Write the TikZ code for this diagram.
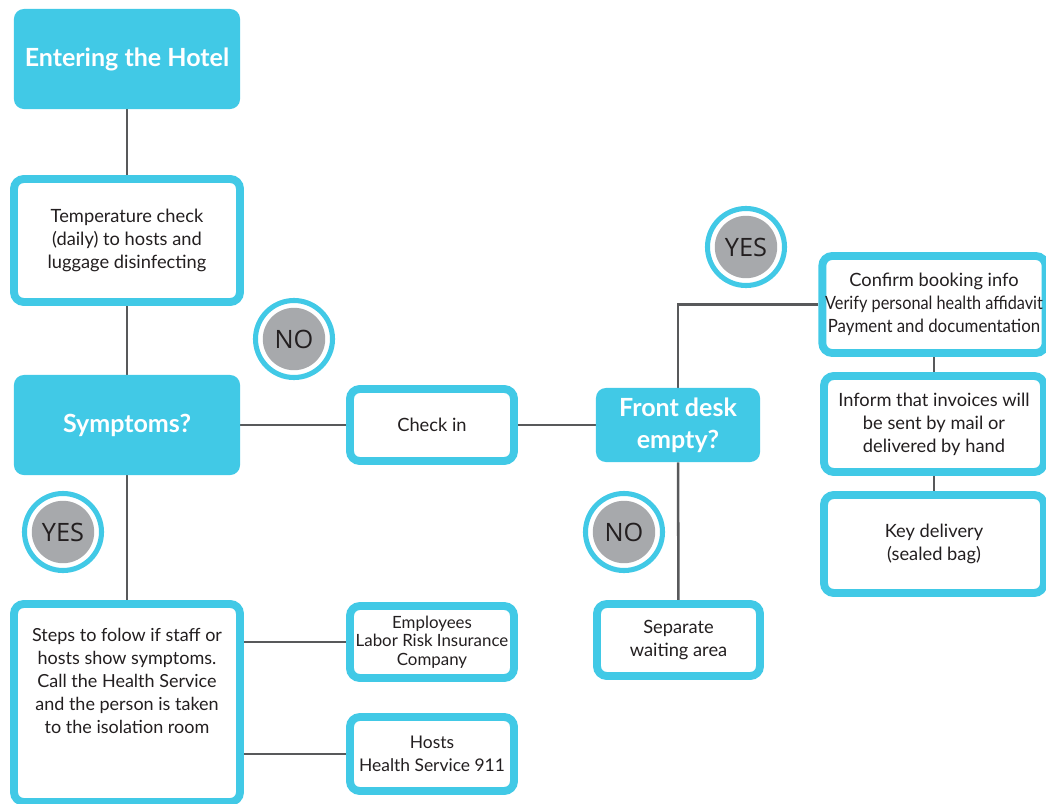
\documentclass[tikz,border=0pt]{standalone}
\usepackage{fontspec}
\setmainfont{Lato}
\newfontfamily\badgefont{Open Sans}
\usetikzlibrary{positioning,backgrounds}
\definecolor{hotelcyan}{HTML}{41C9E6}
\definecolor{badgegrey}{HTML}{A7A9AC}
\definecolor{inkdark}{HTML}{231F20}
\definecolor{wiregrey}{HTML}{58595B}

\begin{document}
\begin{tikzpicture}[x=0.025cm,y=-0.025cm]

\tikzset{
  headbox/.style={rectangle, rounded corners=7pt, fill=hotelcyan, text=white,
                  font=\fontsize{17.8}{23}\selectfont\bfseries, align=center,
                  minimum width=5.65cm, minimum height=2.5cm, inner sep=2pt},
  stepbox/.style={rectangle, rounded corners=7pt, draw=hotelcyan, fill=white,
                  line width=5.6pt, text=inkdark,
                  font=\fontsize{13}{16.3}\selectfont, align=center, inner sep=2pt},
  txt/.style={text=inkdark, font=\fontsize{12.8}{16.3}\selectfont, align=center},
  badge/.style={circle, draw=hotelcyan, fill=white, line width=3.6pt,
                minimum size=1.925cm, inner sep=0pt, text=inkdark,
                font=\badgefont\fontsize{18}{20}\selectfont,
                path picture={\fill[badgegrey] (path picture bounding box.center) circle (0.78cm);}},
  wire/.style={wiregrey, line width=1.8pt}
}

\useasboundingbox (0,0) rectangle (1046,803);

% Left column
\node[headbox] (entering) at (127,59) {Entering the Hotel};
\node[stepbox, minimum width=5.65cm, minimum height=3.075cm] (temp) at (127,240.5)
  {Temperature check\\(daily) to hosts and\\luggage disinfecting};
\node[headbox] (symptoms) at (127,425) {Symptoms?};
\node[stepbox, minimum width=5.65cm, minimum height=4.95cm] (steps) at (127,703) {};
\node[txt] (stepstext) at ([yshift=15.6pt]steps.center)
  {Steps to folow if staff or\\hosts show symptoms.\\Call the Health Service\\and the person is taken\\to the isolation room};

% Middle column
\node[stepbox, minimum width=4.1cm, minimum height=1.8cm] (checkin) at (432,425) {Check in};
\node[stepbox, minimum width=4.1cm, minimum height=1.8cm, font=\fontsize{12}{13}\selectfont] (employees) at (432,642)
  {Employees\\Labor Risk Insurance\\Company};
\node[stepbox, minimum width=4.1cm, minimum height=1.85cm, font=\fontsize{12.4}{16.3}\selectfont] (hosts) at (432,754)
  {Hosts\\Health Service 911};

% Front desk
\node[headbox, minimum width=4.1cm, minimum height=1.85cm] (frontdesk) at (678,425) {Front desk\\empty?};
\node[stepbox, minimum width=4.075cm, minimum height=1.8cm] (separate) at (678.5,640)
  {Separate\\waiting area};

% Right column
\node[stepbox, minimum width=5.5cm, minimum height=2.425cm] (confirm) at (934,304.5)
  {Confirm booking info\\{\addfontfeatures{FakeStretch=0.89}Verify personal health affidavit}\\{\addfontfeatures{FakeStretch=0.92}Payment and documentation}};
\node[stepbox, minimum width=5.5cm, minimum height=2.4cm] (inform) at (934,424)
  {Inform that invoices will\\be sent by mail or\\delivered by hand};
\node[stepbox, minimum width=5.5cm, minimum height=2.45cm] (keybag) at (934,544)
  {Key delivery\\(sealed bag)};

% Answers
\node[badge] (nomid) at (294,339) {NO};
\node[badge] (yesleft) at (63,532) {YES};
\node[badge] (yesright) at (746,247) {YES};
\node[badge] (nodesk) at (624,532) {NO};

% Lines
\begin{scope}[on background layer]
\draw[wire] (entering) -- (temp);
\draw[wire] (temp) -- (symptoms);
\draw[wire] (symptoms) -- (steps);
\draw[wire] (symptoms) -- (checkin);
\draw[wire] (checkin) -- (frontdesk);
\draw[wire] (frontdesk) |- (confirm);
\draw[wire] (frontdesk) -- (separate);
\draw[wire] (confirm) -- (inform);
\draw[wire] (inform) -- (keybag);
\draw[wire] (employees.west -| steps.east) -- (employees.west);
\draw[wire] (hosts.west -| steps.east) -- (hosts.west);
\end{scope}

\end{tikzpicture}
\end{document}
